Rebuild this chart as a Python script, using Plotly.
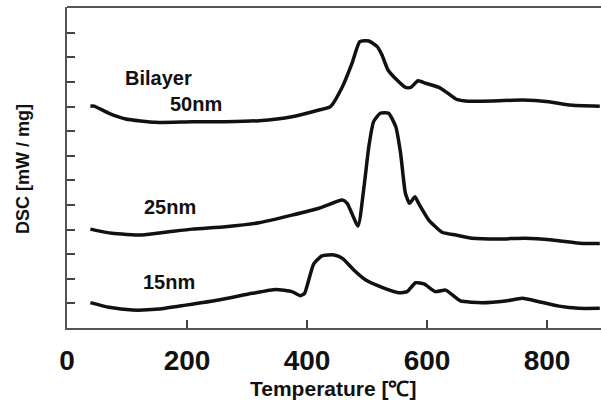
import plotly.graph_objects as go

# Temperature (°C) and DSC signal (arbitrary offset units)
bilayer_x = [39, 45, 70, 98, 148, 209, 264, 320, 375, 420, 439, 459, 475, 488, 503, 517, 525, 535, 550, 564, 573, 585, 598, 620, 631, 648, 664, 709, 759, 803, 837, 888]
bilayer_y = [9.02, 9.02, 8.73, 8.50, 8.36, 8.39, 8.39, 8.43, 8.59, 8.86, 9.00, 9.81, 10.76, 11.64, 11.67, 11.44, 11.10, 10.49, 10.08, 9.78, 9.78, 10.05, 9.95, 9.78, 9.61, 9.31, 9.23, 9.23, 9.27, 9.20, 9.07, 9.02]

nm25_x = [39, 75, 125, 170, 209, 264, 320, 375, 420, 459, 467, 485, 495, 503, 511, 522, 536, 548, 556, 564, 571, 580, 586, 603, 625, 648, 675, 720, 764, 809, 859, 888]
nm25_y = [4.02, 3.85, 3.78, 3.91, 4.02, 4.12, 4.28, 4.59, 4.87, 5.20, 5.07, 4.15, 5.74, 7.37, 8.39, 8.73, 8.73, 8.18, 7.10, 5.48, 5.07, 5.34, 5.07, 4.39, 3.89, 3.78, 3.65, 3.62, 3.65, 3.58, 3.44, 3.44]

nm15_x = [39, 70, 109, 153, 198, 253, 309, 348, 375, 389, 396, 411, 425, 445, 459, 478, 498, 525, 553, 567, 581, 595, 614, 631, 639, 656, 692, 731, 759, 787, 820, 853, 888]
nm15_y = [1.03, 0.84, 0.73, 0.77, 0.93, 1.14, 1.41, 1.57, 1.48, 1.31, 1.41, 2.60, 2.93, 2.97, 2.83, 2.36, 1.95, 1.65, 1.43, 1.48, 1.84, 1.79, 1.48, 1.54, 1.41, 1.10, 1.03, 1.10, 1.21, 1.07, 0.89, 0.80, 0.80]

label_text = ["Bilayer", "50nm", "25nm", "15nm"]
label_x = [153, 215, 172, 170]
label_y = [10.16, 9.1, 4.92, 1.89]

x_ticks = [0, 200, 400, 600, 800]
y_ticks = [1, 2, 3, 4, 5, 6, 7, 8, 9, 10, 11, 12]

fig = go.Figure()
for xs, ys in [(bilayer_x, bilayer_y), (nm25_x, nm25_y), (nm15_x, nm15_y)]:
    fig.add_trace(go.Scatter(x=xs, y=ys, mode="lines",
                             line=dict(color="#111111", width=3.5, shape="spline", smoothing=0.5),
                             showlegend=False, hoverinfo="skip"))

for t, x, y in zip(label_text, label_x, label_y):
    fig.add_annotation(x=x, y=y, text="<b>" + t + "</b>", showarrow=False,
                       xanchor="center", yanchor="middle",
                       font=dict(family="Liberation Sans", size=20, color="#111111"))

fig.add_annotation(xref="paper", yref="paper", x=0.4985, y=-0.187, text="<b>Temperature [℃]</b>",
                   showarrow=False, xanchor="center", yanchor="middle",
                   font=dict(family="Liberation Sans", size=21, color="#111111"))
fig.add_annotation(xref="paper", yref="paper", x=-0.0815, y=0.497, text="<b>DSC [mW / mg]</b>", textangle=-90,
                   showarrow=False, xanchor="center", yanchor="middle",
                   font=dict(family="Liberation Sans", size=18, color="#111111"))

fig.add_shape(type="line", xref="paper", yref="paper", x0=0, x1=1, y0=1, y1=1,
              line=dict(color="#555555", width=2))

fig.update_layout(
    width=601, height=401,
    margin=dict(l=67, r=0, t=7, b=73),
    paper_bgcolor="white", plot_bgcolor="white",
    xaxis=dict(range=[0, 890], tickvals=x_ticks, ticktext=["<b>%d</b>" % v for v in x_ticks],
               ticks="inside", ticklen=8, tickwidth=1.5, tickcolor="#444444",
               showline=True, linecolor="#555555", linewidth=2, showgrid=False, zeroline=False,
               tickfont=dict(family="Liberation Sans", size=28, color="#111111"),
               ticklabelstandoff=6),
    yaxis=dict(range=[0, 13.05], tickvals=y_ticks, showticklabels=False,
               ticks="inside", ticklen=8, tickwidth=1.5, tickcolor="#444444",
               showline=True, linecolor="#555555", linewidth=2, showgrid=False, zeroline=False),
)

fig.write_html("out.html", config={"displayModeBar": False})
with open("out.html", "r", encoding="utf-8") as f:
    html = f.read()
html = html.replace("<body>", '<body style="margin:0;overflow:hidden">', 1)
with open("out.html", "w", encoding="utf-8") as f:
    f.write(html)
